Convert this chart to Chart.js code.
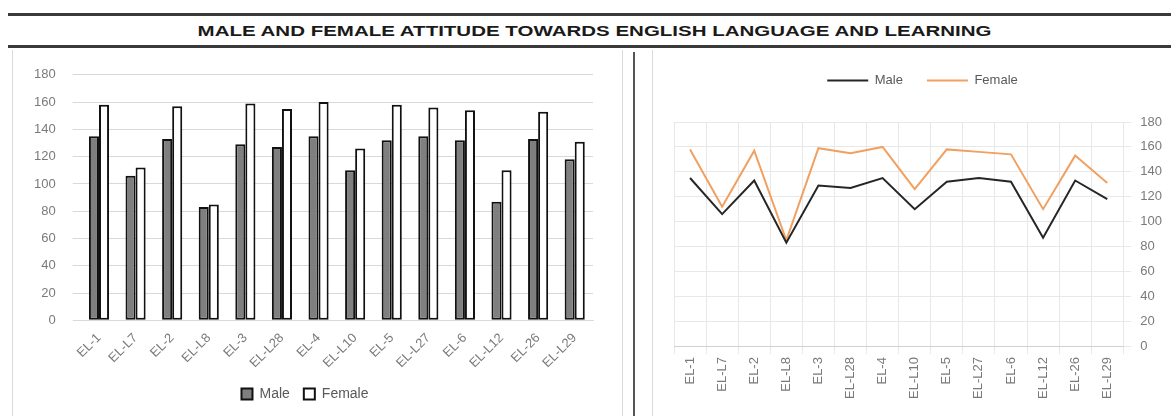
<!DOCTYPE html>
<html><head><meta charset="utf-8">
<script src="https://cdn.jsdelivr.net/npm/chart.js@4"></script>
<style>
html,body{margin:0;padding:0;background:#fff;width:1171px;height:416px;overflow:hidden;position:relative;font-family:"Liberation Sans",sans-serif;}
.hl{position:absolute;left:8px;right:0;height:3px;background:#3a3a3a;}
.vl{position:absolute;width:1px;background:#d9d9d9;}
#title{position:absolute;top:22px;left:9px;width:1171px;text-align:center;font:bold 15px "Liberation Sans Narrow","Liberation Sans",sans-serif;color:#1a1a1a;}
#title span{display:inline-block;}
.cw{position:absolute;}
</style></head><body>
<div class="hl" style="top:13px"></div>
<div class="hl" style="top:45px"></div>
<div id="title"><span id="tt">MALE AND FEMALE ATTITUDE TOWARDS ENGLISH LANGUAGE AND LEARNING</span></div>
<div class="vl" style="left:12px;top:50px;height:366px"></div>
<div class="vl" style="left:622px;top:50px;height:366px"></div>
<div class="vl" style="left:633px;top:52px;height:364px;width:2px;background:#555"></div>
<div class="vl" style="left:652px;top:50px;height:366px"></div>
<div class="cw" style="left:14px;top:50px;width:606px;height:366px"><canvas id="c1"></canvas></div>
<div class="cw" style="left:655px;top:50px;width:516px;height:366px"><canvas id="c2"></canvas></div>
<script>
const categories = ["EL-1","EL-L7","EL-2","EL-L8","EL-3","EL-L28","EL-4","EL-L10","EL-5","EL-L27","EL-6","EL-L12","EL-26","EL-L29"];
const maleValues   = [135,106,133,83,129,127,135,110,132,135,132,87,133,118];
const femaleValues = [158,112,157,85,159,155,160,126,158,156,154,110,153,131];
const yTicks = [0,20,40,60,80,100,120,140,160,180];

// fit title width
const tt=document.getElementById('tt');
const w=tt.getBoundingClientRect().width;
tt.style.transform='scaleX('+(794/w)+')';

const fam="'Liberation Sans Narrow','Liberation Sans',sans-serif";
const tickColor='#7a7a7a';

new Chart(document.getElementById('c1'),{
  type:'bar',
  data:{labels:categories,datasets:[
    {label:'Male',data:maleValues,backgroundColor:'#7f7f7f',borderColor:'#111',borderWidth:2,borderSkipped:false,barPercentage:1,categoryPercentage:0.55},
    {label:'Female',data:femaleValues,backgroundColor:'#ffffff',borderColor:'#111',borderWidth:2,borderSkipped:false,barPercentage:1,categoryPercentage:0.55}
  ]},
  options:{responsive:true,maintainAspectRatio:false,animation:false,
    layout:{padding:{left:3,right:27,top:19,bottom:5}},
    plugins:{legend:{position:'bottom',labels:{boxWidth:11,boxHeight:11,color:'#595959',font:{size:14,family:fam},padding:14}},tooltip:{enabled:false}},
    scales:{
      x:{grid:{display:false},border:{color:'#d9d9d9'},ticks:{color:tickColor,font:{size:13,family:fam},minRotation:45,maxRotation:45,autoSkip:false,padding:2}},
      y:{min:0,max:180,afterBuildTicks:a=>{a.ticks=yTicks.map(v=>({value:v}));},grid:{color:'#d9d9d9'},border:{display:false},ticks:{color:tickColor,font:{size:13,family:fam},padding:17}}
    }}
});

const legendSpacer={id:'legendSpacer',beforeInit(chart){const f=chart.legend.fit;chart.legend.fit=function(){f.call(this);this.height+=25;};}};

new Chart(document.getElementById('c2'),{
  type:'line',
  data:{labels:categories,datasets:[
    {label:'Male',data:maleValues,borderColor:'#262626',backgroundColor:'#262626',borderWidth:2,pointRadius:0,tension:0},
    {label:'Female',data:femaleValues,borderColor:'#f0a060',backgroundColor:'#f0a060',borderWidth:2,pointRadius:0,tension:0}
  ]},
  plugins:[legendSpacer],
  options:{responsive:true,maintainAspectRatio:false,animation:false,
    layout:{padding:{left:19,right:0,top:0,bottom:14}},
    plugins:{legend:{position:'top',labels:{boxWidth:41,boxHeight:0,color:'#595959',font:{size:13,family:fam},padding:24}},tooltip:{enabled:false}},
    scales:{
      x:{offset:true,grid:{offset:true,color:'#e8e8e8'},border:{color:'#d0d0d0'},ticks:{color:tickColor,font:{size:13,family:fam},minRotation:90,maxRotation:90,autoSkip:false}},
      y:{position:'right',min:0,max:180,afterBuildTicks:a=>{a.ticks=yTicks.map(v=>({value:v}));},grid:{color:'#e8e8e8'},border:{display:false},ticks:{color:tickColor,font:{size:13,family:fam},padding:9}}
    }}
});
</script>
</body></html>
